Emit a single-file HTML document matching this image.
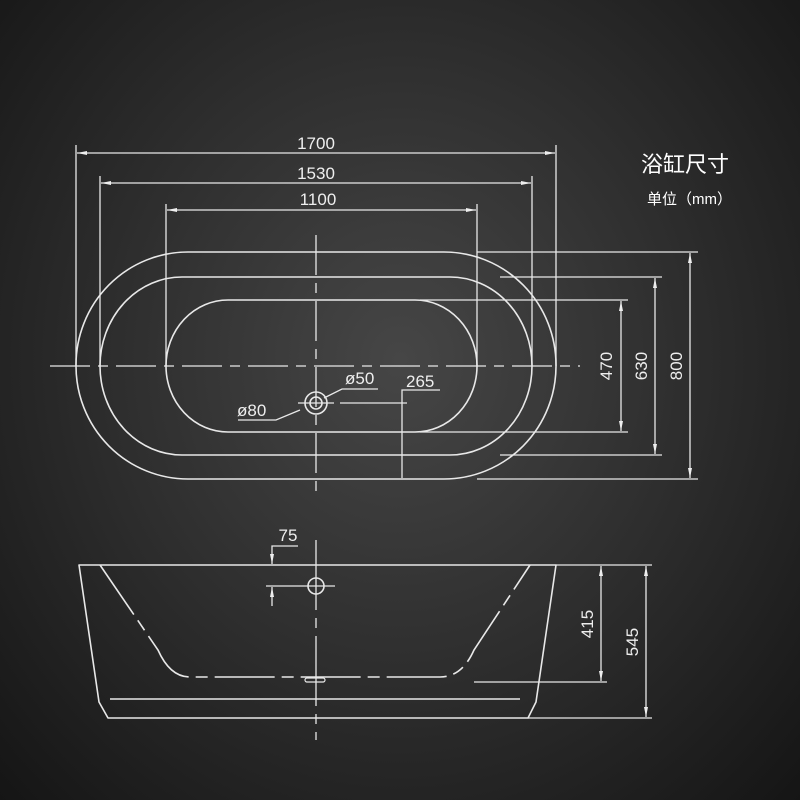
<!DOCTYPE html>
<html><head><meta charset="utf-8"><style>
html,body{margin:0;padding:0;}
body{width:800px;height:800px;background:radial-gradient(ellipse at 50% 45%,#464646 0%,#2e2e2e 50%,#151515 100%);font-family:"Liberation Sans","Noto Sans CJK SC",sans-serif;}
svg{position:absolute;left:0;top:0}
</style></head><body>
<svg width="800" height="800" viewBox="0 0 800 800" fill="none" stroke="#e8e8e8" stroke-width="1.6">
<defs><marker id="a" viewBox="0 0 10 6" refX="10" refY="3" markerWidth="10" markerHeight="6" orient="auto-start-reverse" markerUnits="userSpaceOnUse"><path d="M0,1 L10,3 L0,5z" fill="#eee" stroke="none"/></marker></defs>
<!-- top dims -->
<g stroke-width="1.3">
<line x1="76" y1="145" x2="76" y2="366"/><line x1="556" y1="145" x2="556" y2="366"/>
<line x1="77" y1="153" x2="555" y2="153" marker-start="url(#a)" marker-end="url(#a)"/>
<line x1="100" y1="176" x2="100" y2="366"/><line x1="532" y1="176" x2="532" y2="366"/>
<line x1="101" y1="183" x2="531" y2="183" marker-start="url(#a)" marker-end="url(#a)"/>
<line x1="166" y1="204" x2="166" y2="366"/><line x1="477" y1="204" x2="477" y2="366"/>
<line x1="167" y1="210" x2="476" y2="210" marker-start="url(#a)" marker-end="url(#a)"/>
</g>
<g fill="#eee" stroke="none" font-size="17" text-anchor="middle">
<text x="316" y="149">1700</text><text x="316" y="179">1530</text><text x="318" y="205">1100</text>
</g>
<!-- tubs -->
<rect x="76" y="252" width="480" height="227" rx="112" ry="113"/>
<rect x="100" y="277" width="432" height="178" rx="82" ry="89"/>
<rect x="166" y="300" width="311" height="132" rx="62" ry="66"/>
<line x1="50" y1="366" x2="580" y2="366" stroke-width="1.3" stroke-dasharray="40,8,10,8"/>
<line x1="316" y1="235" x2="316" y2="495" stroke-width="1.3" stroke-dasharray="40,8,10,8"/>
<!-- right dims -->
<g stroke-width="1.3">
<line x1="477" y1="252" x2="698" y2="252"/><line x1="477" y1="479" x2="698" y2="479"/>
<line x1="500" y1="277" x2="662" y2="277"/><line x1="500" y1="455" x2="662" y2="455"/>
<line x1="420" y1="300" x2="628" y2="300"/><line x1="420" y1="432" x2="628" y2="432"/>
<line x1="690" y1="253" x2="690" y2="478" marker-start="url(#a)" marker-end="url(#a)"/>
<line x1="655" y1="278" x2="655" y2="454" marker-start="url(#a)" marker-end="url(#a)"/>
<line x1="621" y1="301" x2="621" y2="431" marker-start="url(#a)" marker-end="url(#a)"/>
</g>
<g fill="#eee" stroke="none" font-size="17" text-anchor="middle">
<text transform="translate(612,366) rotate(-90)">470</text>
<text transform="translate(647,366) rotate(-90)">630</text>
<text transform="translate(682,366) rotate(-90)">800</text>
</g>
<!-- drain -->
<circle cx="316" cy="403" r="11"/><circle cx="316" cy="403" r="6"/>
<g stroke-width="1.3">
<line x1="298" y1="403" x2="334" y2="403"/>
<line x1="340" y1="403" x2="407" y2="403"/>
<polyline points="238,420 276,420 300,410"/>
<polyline points="378,389 342,389 324,398"/>
<polyline points="440,390 402,390 402,478"/>
</g>
<g fill="#eee" stroke="none" font-size="17">
<text x="237" y="416">ø80</text><text x="345" y="384">ø50</text><text x="406" y="387">265</text>
</g>
<!-- side view -->
<path d="M79,565 L556,565 L536,702 L528,718 L108,718 L99,702 Z" stroke-linejoin="round"/>
<path d="M100,565 L158,650 Q170,677 190,677 L440,677 Q462,677 474,650 L530,565" stroke-dasharray="60,7,12,7"/>
<line x1="110" y1="699" x2="520" y2="699"/>
<line x1="316" y1="540" x2="316" y2="740" stroke-width="1.3" stroke-dasharray="70,8,10,8"/>
<circle cx="316" cy="586" r="8"/>
<line x1="290" y1="586" x2="335" y2="586" stroke-width="1.3"/>
<rect x="305" y="678" width="20" height="4" rx="2" stroke-width="1.2"/>
<g stroke-width="1.3">
<polyline points="298,546 272,546 272,564" marker-end="url(#a)"/>
<line x1="272" y1="606" x2="272" y2="587" marker-end="url(#a)"/>
<line x1="266" y1="586" x2="290" y2="586"/>
<line x1="556" y1="565" x2="652" y2="565"/>
<line x1="474" y1="682" x2="607" y2="682"/>
<line x1="528" y1="718" x2="652" y2="718"/>
<line x1="601" y1="566" x2="601" y2="681" marker-start="url(#a)" marker-end="url(#a)"/>
<line x1="646" y1="566" x2="646" y2="717" marker-start="url(#a)" marker-end="url(#a)"/>
</g>
<g fill="#eee" stroke="none" font-size="17" text-anchor="middle">
<text x="288" y="541">75</text>
<text transform="translate(593,624) rotate(-90)">415</text>
<text transform="translate(638,642) rotate(-90)">545</text>
</g>
<g fill="#fff" stroke="none">
<text x="641" y="172" font-size="22">浴缸尺寸</text>
<text x="647" y="204" font-size="15">单位（mm）</text>
</g>
</svg>
</body></html>
